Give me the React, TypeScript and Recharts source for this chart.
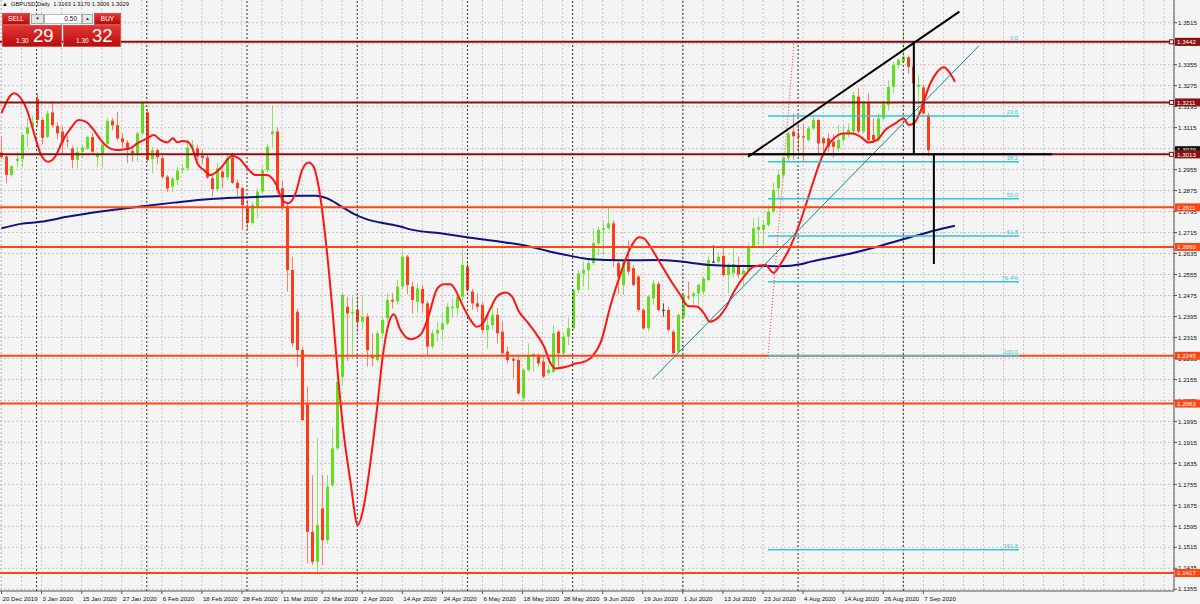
import {
  ComposedChart,
  Bar,
  Line,
  XAxis,
  YAxis,
  CartesianGrid,
  ReferenceLine,
} from "recharts";

const FONT = '"Liberation Sans", Arial, sans-serif';

// bar index 0 = 20 Dec 2019, one bar per trading day, labels every 8 bars
const timeLabels = [
  "20 Dec 2019", "3 Jan 2020", "15 Jan 2020", "27 Jan 2020", "6 Feb 2020",
  "18 Feb 2020", "28 Feb 2020", "11 Mar 2020", "23 Mar 2020", "2 Apr 2020",
  "14 Apr 2020", "24 Apr 2020", "6 May 2020", "18 May 2020", "28 May 2020",
  "9 Jun 2020", "19 Jun 2020", "1 Jul 2020", "13 Jul 2020", "23 Jul 2020",
  "4 Aug 2020", "14 Aug 2020", "26 Aug 2020", "7 Sep 2020",
];

const opens = [
  1.3020, 1.3005, 1.2935, 1.2988, 1.2995, 1.3091, 1.3118, 1.3225, 1.3144, 1.3080,
  1.3173, 1.3121, 1.3100, 1.3066, 1.3036, 1.2992, 1.3023, 1.3036, 1.3079, 1.3002,
  1.3013, 1.3053, 1.3141, 1.3124, 1.3074, 1.3058, 1.3026, 1.3017, 1.3093, 1.3173,
  1.2995, 1.3029, 1.2998, 1.2928, 1.2890, 1.2915, 1.2954, 1.2960, 1.3042, 1.3036,
  1.3008, 1.3001, 1.2922, 1.2880, 1.2947, 1.2925, 1.3000, 1.2905, 1.2884, 1.2814,
  1.2752, 1.2814, 1.2871, 1.2953, 1.3090, 1.3100, 1.2884, 1.2814, 1.2572, 1.2413,
  1.2267, 1.2064, 1.1574, 1.1460, 1.1663, 1.1542, 1.1752, 1.1892, 1.2165, 1.2432,
  1.2407, 1.2420, 1.2375, 1.2394, 1.2242, 1.2229, 1.2331, 1.2388, 1.2458, 1.2452,
  1.2509, 1.2623, 1.2509, 1.2451, 1.2500, 1.2445, 1.2280, 1.2331, 1.2345, 1.2369,
  1.2426, 1.2426, 1.2470, 1.2585, 1.2490, 1.2445, 1.2439, 1.2343, 1.2362, 1.2401,
  1.2337, 1.2261, 1.2233, 1.2229, 1.2083, 1.2191, 1.2242, 1.2248, 1.2223, 1.2180,
  1.2184, 1.2337, 1.2255, 1.2318, 1.2350, 1.2496, 1.2559, 1.2572, 1.2598, 1.2674,
  1.2725, 1.2731, 1.2750, 1.2598, 1.2515, 1.2604, 1.2579, 1.2547, 1.2420, 1.2350,
  1.2464, 1.2519, 1.2420, 1.2420, 1.2337, 1.2261, 1.2394, 1.2471, 1.2471, 1.2483,
  1.2490, 1.2534, 1.2604, 1.2604, 1.2626, 1.2553, 1.2560, 1.2590, 1.2555, 1.2572,
  1.2661, 1.2725, 1.2725, 1.2744, 1.2795, 1.2884, 1.2935, 1.2998, 1.3100, 1.3085,
  1.3082, 1.3068, 1.3112, 1.3144, 1.3074, 1.3074, 1.3061, 1.3036, 1.3068, 1.3093,
  1.3100, 1.3233, 1.3100, 1.3207, 1.3087, 1.3068, 1.3150, 1.3201, 1.3270, 1.3354,
  1.3367, 1.3383, 1.3347, 1.3271, 1.3268, 1.3163,
];
const highs = [
  1.3081, 1.3012, 1.2972, 1.3023, 1.3093, 1.3150, 1.3160, 1.3245, 1.3152, 1.3180,
  1.3208, 1.3135, 1.3120, 1.3082, 1.3045, 1.3042, 1.3050, 1.3085, 1.3095, 1.3023,
  1.3068, 1.3152, 1.3152, 1.3175, 1.3093, 1.3068, 1.3036, 1.3100, 1.3214, 1.3185,
  1.3042, 1.3036, 1.3008, 1.2935, 1.2928, 1.2965, 1.2975, 1.3070, 1.3068, 1.3050,
  1.3030, 1.3010, 1.2935, 1.2980, 1.2960, 1.3010, 1.3020, 1.2918, 1.2890, 1.2840,
  1.2830, 1.2885, 1.2968, 1.3054, 1.3201, 1.3115, 1.2910, 1.2825, 1.2623, 1.2425,
  1.2280, 1.2127, 1.1790, 1.1930, 1.1790, 1.1790, 1.1968, 1.2152, 1.2486, 1.2470,
  1.2477, 1.2470, 1.2477, 1.2407, 1.2331, 1.2340, 1.2395, 1.2485, 1.2485, 1.2535,
  1.2648, 1.2630, 1.2527, 1.2521, 1.2515, 1.2455, 1.2345, 1.2375, 1.2413, 1.2445,
  1.2465, 1.2480, 1.2648, 1.2605, 1.2500, 1.2483, 1.2450, 1.2400, 1.2440, 1.2426,
  1.2375, 1.2280, 1.2242, 1.2242, 1.2197, 1.2293, 1.2255, 1.2255, 1.2242, 1.2210,
  1.2362, 1.2343, 1.2331, 1.2388, 1.2502, 1.2572, 1.2604, 1.2610, 1.2731, 1.2737,
  1.2757, 1.2814, 1.2763, 1.2610, 1.2610, 1.2686, 1.2591, 1.2553, 1.2426, 1.2477,
  1.2534, 1.2528, 1.2445, 1.2432, 1.2344, 1.2407, 1.2483, 1.2528, 1.2490, 1.2521,
  1.2547, 1.2623, 1.2667, 1.2642, 1.2661, 1.2598, 1.2655, 1.2623, 1.2579, 1.2674,
  1.2769, 1.2775, 1.2763, 1.2820, 1.2905, 1.2954, 1.3004, 1.3100, 1.3169, 1.3130,
  1.3130, 1.3120, 1.3163, 1.3150, 1.3080, 1.3093, 1.3090, 1.3125, 1.3125, 1.3131,
  1.3250, 1.3265, 1.3214, 1.3246, 1.3150, 1.3169, 1.3220, 1.3297, 1.3365, 1.3380,
  1.3482, 1.3390, 1.3360, 1.3316, 1.3278, 1.3170,
];
const lows = [
  1.2995, 1.2903, 1.2928, 1.2963, 1.2963, 1.3042, 1.3100, 1.3119, 1.3052, 1.3075,
  1.3115, 1.3070, 1.3015, 1.3040, 1.2960, 1.2960, 1.2998, 1.3030, 1.3017, 1.2963,
  1.2962, 1.3045, 1.3105, 1.3068, 1.3036, 1.2979, 1.2985, 1.2985, 1.3087, 1.2985,
  1.2941, 1.2975, 1.2920, 1.2870, 1.2870, 1.2895, 1.2940, 1.2950, 1.3030, 1.2990,
  1.2975, 1.2920, 1.2852, 1.2872, 1.2885, 1.2915, 1.2900, 1.2855, 1.2725, 1.2725,
  1.2745, 1.2770, 1.2862, 1.2945, 1.3040, 1.2860, 1.2800, 1.2490, 1.2280, 1.2204,
  1.1995, 1.1455, 1.1447, 1.1412, 1.1447, 1.1530, 1.1745, 1.1885, 1.2130, 1.2225,
  1.2232, 1.2337, 1.2343, 1.2204, 1.2204, 1.2220, 1.2310, 1.2370, 1.2425, 1.2440,
  1.2500, 1.2480, 1.2407, 1.2410, 1.2413, 1.2248, 1.2270, 1.2300, 1.2305, 1.2362,
  1.2390, 1.2400, 1.2455, 1.2480, 1.2420, 1.2413, 1.2330, 1.2273, 1.2343, 1.2293,
  1.2242, 1.2216, 1.2159, 1.2096, 1.2070, 1.2185, 1.2185, 1.2204, 1.2159, 1.2170,
  1.2178, 1.2204, 1.2242, 1.2286, 1.2343, 1.2483, 1.2509, 1.2496, 1.2591, 1.2629,
  1.2629, 1.2725, 1.2585, 1.2480, 1.2477, 1.2553, 1.2509, 1.2413, 1.2344, 1.2338,
  1.2439, 1.2413, 1.2394, 1.2338, 1.2251, 1.2255, 1.2382, 1.2458, 1.2432, 1.2432,
  1.2477, 1.2528, 1.2598, 1.2598, 1.2547, 1.2483, 1.2545, 1.2540, 1.2515, 1.2566,
  1.2655, 1.2668, 1.2661, 1.2737, 1.2788, 1.2846, 1.2925, 1.2985, 1.2992, 1.3005,
  1.2985, 1.3062, 1.3105, 1.3017, 1.3023, 1.3023, 1.3000, 1.3023, 1.3055, 1.3080,
  1.3093, 1.3093, 1.3093, 1.3061, 1.3061, 1.3061, 1.3144, 1.3180, 1.3245, 1.3340,
  1.3360, 1.3320, 1.3265, 1.3169, 1.3163, 1.3006,
];
const closes = [
  1.3002, 1.2935, 1.2968, 1.2996, 1.3087, 1.3115, 1.3135, 1.3144, 1.3076, 1.3169,
  1.3125, 1.3093, 1.3058, 1.3062, 1.2992, 1.3023, 1.3039, 1.3079, 1.3023, 1.3013,
  1.3050, 1.3141, 1.3124, 1.3074, 1.3059, 1.3030, 1.3017, 1.3093, 1.3210, 1.2992,
  1.3029, 1.3002, 1.2928, 1.2883, 1.2921, 1.2951, 1.2960, 1.3039, 1.3048, 1.3004,
  1.3000, 1.2925, 1.2880, 1.2960, 1.2925, 1.3000, 1.2905, 1.2884, 1.2820, 1.2752,
  1.2820, 1.2871, 1.2953, 1.3042, 1.3100, 1.2877, 1.2814, 1.2572, 1.2293, 1.2267,
  1.2000, 1.1574, 1.1460, 1.1600, 1.1542, 1.1746, 1.1892, 1.2146, 1.2477, 1.2407,
  1.2413, 1.2375, 1.2394, 1.2267, 1.2236, 1.2331, 1.2382, 1.2458, 1.2452, 1.2509,
  1.2623, 1.2515, 1.2458, 1.2502, 1.2445, 1.2280, 1.2331, 1.2343, 1.2369, 1.2432,
  1.2432, 1.2470, 1.2591, 1.2496, 1.2445, 1.2432, 1.2343, 1.2362, 1.2401, 1.2331,
  1.2255, 1.2229, 1.2226, 1.2102, 1.2191, 1.2248, 1.2252, 1.2216, 1.2166, 1.2192,
  1.2331, 1.2255, 1.2318, 1.2350, 1.2496, 1.2559, 1.2572, 1.2598, 1.2674, 1.2725,
  1.2731, 1.2750, 1.2610, 1.2547, 1.2604, 1.2566, 1.2515, 1.2420, 1.2350, 1.2471,
  1.2521, 1.2420, 1.2420, 1.2344, 1.2255, 1.2401, 1.2477, 1.2467, 1.2483, 1.2515,
  1.2540, 1.2610, 1.2604, 1.2623, 1.2553, 1.2591, 1.2595, 1.2555, 1.2570, 1.2661,
  1.2731, 1.2737, 1.2744, 1.2795, 1.2877, 1.2935, 1.2998, 1.3093, 1.3082, 1.3080,
  1.3077, 1.3112, 1.3144, 1.3055, 1.3055, 1.3042, 1.3042, 1.3068, 1.3093, 1.3106,
  1.3239, 1.3100, 1.3207, 1.3068, 1.3068, 1.3150, 1.3207, 1.3270, 1.3354, 1.3373,
  1.3386, 1.3347, 1.3284, 1.3278, 1.3169, 1.3029,
];

// fast red moving average (drawn shifted forward), read as [bar, price]
const redMa = [
  [0, 1.3170], [2.5, 1.3246], [4.1, 1.3220], [5.1, 1.3182], [6.1, 1.3119], [7.1, 1.3055],
  [7.9, 1.3011], [9.3, 1.2985], [10.8, 1.3007], [12.1, 1.3061], [13.8, 1.3112], [15.4, 1.3144],
  [16.8, 1.3138], [18.4, 1.3106], [19.8, 1.3068], [21.1, 1.3042], [22.8, 1.3030], [24.4, 1.3032],
  [25.7, 1.3036], [27.1, 1.3055], [29.1, 1.3074], [30.4, 1.3087], [31.7, 1.3068], [33.1, 1.3058],
  [34.2, 1.3074], [35.1, 1.3059], [36.1, 1.3064], [37.1, 1.3061], [38.1, 1.3036], [39.1, 1.2979],
  [40.4, 1.2953], [41.7, 1.2934], [43.7, 1.2960], [46.0, 1.3007], [47.4, 1.2998], [49.4, 1.2953],
  [50.7, 1.2934], [53.0, 1.2934], [54.7, 1.2903], [56.3, 1.2833], [57.3, 1.2827], [58.7, 1.2865],
  [60.0, 1.2953], [61.3, 1.2982], [62.3, 1.2966], [63.3, 1.2890], [64.7, 1.2687], [66.0, 1.2432],
  [67.0, 1.2204], [68.3, 1.1950], [69.7, 1.1759], [71.1, 1.1600], [72.3, 1.1670], [73.7, 1.1848],
  [75.0, 1.2051], [76.0, 1.2229], [77.3, 1.2369], [78.3, 1.2403], [79.6, 1.2345], [81.6, 1.2308],
  [83.6, 1.2324], [85.0, 1.2382], [87.0, 1.2502], [88.3, 1.2518], [89.6, 1.2518], [90.6, 1.2496],
  [92.0, 1.2439], [93.6, 1.2382], [94.9, 1.2356], [96.3, 1.2375], [97.6, 1.2426], [98.9, 1.2471],
  [100.6, 1.2486], [101.9, 1.2471], [103.3, 1.2413], [104.9, 1.2375], [106.9, 1.2324], [108.3, 1.2280],
  [109.6, 1.2216], [110.6, 1.2197], [112.9, 1.2204], [114.6, 1.2216], [115.9, 1.2220], [117.9, 1.2242],
  [119.6, 1.2296], [121.6, 1.2440], [123.6, 1.2560], [125.5, 1.2655], [127.2, 1.2697], [128.2, 1.2693],
  [129.5, 1.2661], [131.5, 1.2598], [133.5, 1.2534], [135.5, 1.2477], [137.0, 1.2435], [138.9, 1.2432],
  [140.2, 1.2407], [141.4, 1.2375], [142.9, 1.2388], [144.5, 1.2426], [146.2, 1.2489], [148.2, 1.2547],
  [150.2, 1.2585], [152.5, 1.2591], [154.1, 1.2561], [155.5, 1.2595], [157.3, 1.2655], [159.5, 1.2760],
  [161.5, 1.2877], [162.8, 1.2953], [163.8, 1.3004], [164.8, 1.3042], [166.5, 1.3080], [167.8, 1.3093],
  [169.8, 1.3093], [171.5, 1.3080], [173.1, 1.3058], [174.8, 1.3068], [176.4, 1.3106], [178.4, 1.3131],
  [180.1, 1.3150], [181.1, 1.3125], [182.1, 1.3131], [183.4, 1.3176], [184.4, 1.3233], [185.4, 1.3284],
  [186.8, 1.3328], [188.1, 1.3345], [189.1, 1.3328], [190.3, 1.3290],
];

// slow navy moving average, read as [bar, price]
const blueMa = [
  [0, 1.2731], [3.8, 1.2748], [7.8, 1.2756], [13.1, 1.2775], [19.8, 1.2795], [27.7, 1.2814],
  [34.4, 1.2829], [41.7, 1.2843], [46.4, 1.2848], [53.0, 1.2852], [59.7, 1.2855], [62.7, 1.2855],
  [65.0, 1.2845], [67.7, 1.2816], [70.3, 1.2786], [72.7, 1.2767], [75.6, 1.2753], [79.6, 1.2738],
  [81.6, 1.2727], [87.6, 1.2712], [93.6, 1.2695], [99.6, 1.2680], [105.6, 1.2661], [109.6, 1.2642],
  [113.6, 1.2626], [117.6, 1.2613], [123.6, 1.2609], [131.5, 1.2610], [137.5, 1.2600], [141.5, 1.2591],
  [147.5, 1.2587], [152.8, 1.2587], [155.5, 1.2586], [159.5, 1.2594], [161.5, 1.2604], [168.1, 1.2629],
  [174.8, 1.2661], [181.4, 1.2697], [186.1, 1.2722], [190.3, 1.2741],
];

const priceTicks = [
  1.1355, 1.1435, 1.1515, 1.1595, 1.1675, 1.1755, 1.1835, 1.1915, 1.1995, 1.2075,
  1.2155, 1.2235, 1.2315, 1.2395, 1.2475, 1.2555, 1.2635, 1.2715, 1.2795, 1.2875,
  1.2955, 1.3035, 1.3115, 1.3195, 1.3275, 1.3355, 1.3435, 1.3515,
];

const monthStarts = [7, 29, 49, 71, 93, 114, 136, 159, 180];
const majorLevels = [1.3442, 1.3211, 1.3013];
const minorLevels = [1.2811, 1.2660, 1.2245, 1.2063, 1.1417];
const lastPrice = 1.3029;

const fibHigh = 1.3442;
const fibLow = 1.2245;
const fibRatios = [0, 0.236, 0.382, 0.5, 0.618, 0.764, 1, 1.618];
const fibNames = ["0.0", "23.6", "38.2", "50.0", "61.8", "76.4%", "100.0", "161.8"];
const fibStart = 153.0;
const fibEnd = 203.1;

const wedgeTop = [{ x: 149.0, y: 1.3004 }, { x: 191.2, y: 1.3557 }];
const neckline = [{ x: 149.0, y: 1.3013 }, { x: 209.7, y: 1.3013 }];
const tealTrend = [{ x: 130.0, y: 1.2157 }, { x: 195.1, y: 1.3427 }];
const topLeg = [{ x: 182.1, y: 1.3442 }, { x: 182.1, y: 1.3013 }];
const dropLeg = [{ x: 186.1, y: 1.3013 }, { x: 186.1, y: 1.2595 }];
const fibDiag = [{ x: 153.0, y: 1.2245 }, { x: 158.2, y: 1.3442 }];

const gridTicks = Array.from({ length: 59 }, (_, k) => k * 4);
// scale labels first, then the line tags so the tags cover them
const scaleTicks = [...priceTicks, lastPrice, ...minorLevels, ...majorLevels];

const candles = opens.map((o, i) => ({
  i,
  o,
  h: highs[i],
  l: lows[i],
  c: closes[i],
  range: [lows[i], highs[i]],
}));
const redMaData = redMa.map(([i, v]) => ({ i, v }));
const blueMaData = blueMa.map(([i, v]) => ({ i, v }));

const BULL = "#62de1c";
const BULL_WICK = "#8fe066";
const BEAR = "#ff3c18";
const BEAR_WICK = "#ff7d62";
const DARK_RED = "#8a1010";
const ORANGE = "#ff4612";
const FIB = "#33c6d6";
const BG = "#f4f4f4";

const Candle = (props: any) => {
  const { x, y, width, height, payload } = props;
  if (!payload) return null;
  const { o, h, l, c } = payload;
  const top = Math.min(y, y + height);
  const bottom = Math.max(y, y + height);
  const ppu = h > l ? (bottom - top) / (h - l) : 0;
  const yo = top + (h - o) * ppu;
  const yc = top + (h - c) * ppu;
  const cx = Math.round(x + width / 2) + 0.5;
  const flat = Math.abs(c - o) < 1e-6;
  const body = flat ? "#333" : c > o ? BULL : BEAR;
  const wick = flat ? "#555" : c > o ? BULL_WICK : BEAR_WICK;
  return (
    <g>
      <line x1={cx} x2={cx} y1={top} y2={bottom} stroke={wick} strokeWidth={1} />
      <rect
        x={cx - 1.5}
        y={Math.min(yo, yc)}
        width={3}
        height={Math.max(1, Math.abs(yc - yo))}
        fill={body}
      />
    </g>
  );
};

const TimeTick = (props: any) => {
  const { x, y, payload } = props;
  const v = payload.value;
  const label = v % 8 === 0 ? timeLabels[v / 8] : undefined;
  if (!label) return null;
  return (
    <g>
      <line x1={x} x2={x} y1={y - 3} y2={y} stroke="#555" />
      <text x={x + 1} y={y + 6.5} fontSize={6.2} fill="#111" fontFamily={FONT}>
        {label}
      </text>
    </g>
  );
};

// price scale tick: plain label, or a coloured tag for a drawn level
const ScaleTick = (props: any) => {
  const { x, y, payload } = props;
  const v = payload.value;
  const major = majorLevels.includes(v);
  const isTag = major || minorLevels.includes(v) || v === lastPrice;
  if (!isTag) {
    return (
      <g>
        <line x1={x} x2={x + 3} y1={y} y2={y} stroke="#555" />
        <text x={x + 4} y={y + 2.2} fontSize={6.2} fill="#111" fontFamily={FONT}>
          {v.toFixed(4)}
        </text>
      </g>
    );
  }
  const color = v === lastPrice ? "#111" : major ? DARK_RED : ORANGE;
  return (
    <g>
      {major && (
        <rect x={x - 4.5} y={y - 2} width={4} height={4} fill={BG} stroke={color} />
      )}
      <rect x={x + 1} y={y - 4} width={25} height={8} fill={color} />
      <text x={x + 3} y={y + 2.3} fontSize={6.2} fill="#fff" fontFamily={FONT}>
        {v.toFixed(4)}
      </text>
    </g>
  );
};

const FibLabel = (props: any) => {
  const { viewBox, tagText } = props;
  if (!viewBox) return null;
  return (
    <text
      x={viewBox.x + viewBox.width - 1}
      y={viewBox.y - 2}
      fontSize={5.8}
      fill={FIB}
      textAnchor="end"
      fontFamily={FONT}
    >
      {tagText}
    </text>
  );
};

const redBox = {
  position: "absolute" as const,
  background: "linear-gradient(#e23434, #b80d0d)",
  color: "#fff",
  fontFamily: FONT,
  boxSizing: "border-box" as const,
  border: "1px solid #d85050",
};

const greyBtn = {
  position: "absolute" as const,
  top: 14,
  height: 10,
  boxSizing: "border-box" as const,
  background: "#e6e6e6",
  border: "1px solid #a8a8a8",
  fontSize: 4.5,
  textAlign: "center" as const,
  lineHeight: "8px",
  fontFamily: FONT,
  color: "#222",
};

export default function App() {
  return (
    <div
      style={{
        position: "absolute",
        left: 0,
        top: 0,
        width: 1200,
        height: 604,
        background: BG,
        overflow: "hidden",
      }}
    >
      <ComposedChart
        width={1200}
        height={604}
        data={candles}
        margin={{ top: 0, right: 0, bottom: 0, left: 0 }}
      >
        <CartesianGrid
          stroke="#c6c6c6"
          strokeDasharray="2 2"
          horizontalValues={priceTicks}
        />
        <XAxis
          dataKey="i"
          type="number"
          domain={[-0.3, 234.03]}
          allowDataOverflow
          ticks={gridTicks}
          interval={0}
          height={13}
          tickSize={3}
          tickMargin={0}
          tickLine={false}
          axisLine={{ stroke: "#555" }}
          tick={<TimeTick />}
        />
        <YAxis
          orientation="right"
          type="number"
          domain={[1.13484, 1.36015]}
          allowDataOverflow
          ticks={scaleTicks}
          interval={0}
          width={26}
          tickSize={0}
          tickMargin={0}
          axisLine={{ stroke: "#555" }}
          tickLine={false}
          tick={<ScaleTick />}
        />

        {monthStarts.map((m) => (
          <ReferenceLine key={`m${m}`} x={m} stroke="#333" strokeDasharray="2 2" />
        ))}

        <Bar
          dataKey="range"
          barSize={3}
          shape={<Candle />}
          isAnimationActive={false}
        />

        <Line
          data={blueMaData}
          dataKey="v"
          type="monotone"
          stroke="#12127e"
          strokeWidth={2}
          dot={false}
          activeDot={false}
          isAnimationActive={false}
        />
        <Line
          data={redMaData}
          dataKey="v"
          type="monotone"
          stroke="#ff1414"
          strokeWidth={2}
          dot={false}
          activeDot={false}
          isAnimationActive={false}
        />

        {minorLevels.map((lv) => (
          <ReferenceLine key={`n${lv}`} y={lv} stroke={ORANGE} strokeWidth={2} />
        ))}
        {fibRatios.map((r, k) => {
          const lv = fibHigh - r * (fibHigh - fibLow);
          return (
            <ReferenceLine
              key={`f${k}`}
              segment={[{ x: fibStart, y: lv }, { x: fibEnd, y: lv }]}
              stroke={FIB}
              strokeWidth={1.5}
              ifOverflow="visible"
              label={<FibLabel tagText={fibNames[k]} />}
            />
          );
        })}
        {majorLevels.map((lv) => (
          <ReferenceLine key={`j${lv}`} y={lv} stroke={DARK_RED} strokeWidth={2} />
        ))}

        <ReferenceLine segment={fibDiag} stroke="#ff3030" strokeDasharray="1 2" ifOverflow="visible" />
        <ReferenceLine segment={tealTrend} stroke="#148888" strokeWidth={1} ifOverflow="visible" />
        <ReferenceLine segment={wedgeTop} stroke="#000" strokeWidth={2} ifOverflow="visible" />
        <ReferenceLine segment={neckline} stroke="#000" strokeWidth={2} ifOverflow="visible" />
        <ReferenceLine segment={topLeg} stroke="#000" strokeWidth={2} ifOverflow="visible" />
        <ReferenceLine segment={dropLeg} stroke="#000" strokeWidth={2} ifOverflow="visible" />
      </ComposedChart>

      {/* symbol header */}
      <div
        style={{
          position: "absolute",
          left: 2,
          top: 1,
          fontSize: 5.8,
          fontFamily: FONT,
          color: "#111",
          whiteSpace: "pre",
        }}
      >
        {"▲  GBPUSD,Daily  1.3163 1.3170 1.3006 1.3029"}
      </div>

      {/* one-click trading panel */}
      <div style={{ ...redBox, left: 2, top: 13, width: 28, height: 12, fontSize: 6.5, textAlign: "center", lineHeight: "10px" }}>
        SELL
      </div>
      <div style={{ ...greyBtn, left: 31, width: 13 }}>▼</div>
      <div
        style={{
          position: "absolute", left: 44, top: 14, width: 38, height: 10, boxSizing: "border-box",
          background: "#fff", border: "1px solid #b8b8b8", fontSize: 6.5, textAlign: "right",
          paddingRight: 4, lineHeight: "8px", fontFamily: FONT, color: "#111",
        }}
      >
        0.50
      </div>
      <div style={{ ...greyBtn, left: 82, width: 11 }}>▲</div>
      <div style={{ ...redBox, left: 94, top: 13, width: 27, height: 12, fontSize: 6.5, textAlign: "center", lineHeight: "10px" }}>
        BUY
      </div>
      <div style={{ ...redBox, left: 2, top: 25, width: 60, height: 22 }}>
        <span style={{ position: "absolute", left: 13, top: 11, fontSize: 6.5 }}>1.30</span>
        <span style={{ position: "absolute", left: 30, top: 0, fontSize: 18.5, lineHeight: "20px" }}>29</span>
      </div>
      <div style={{ ...redBox, left: 63, top: 25, width: 58, height: 22 }}>
        <span style={{ position: "absolute", left: 12, top: 11, fontSize: 6.5 }}>1.30</span>
        <span style={{ position: "absolute", left: 28, top: 0, fontSize: 18.5, lineHeight: "20px" }}>32</span>
      </div>
    </div>
  );
}
